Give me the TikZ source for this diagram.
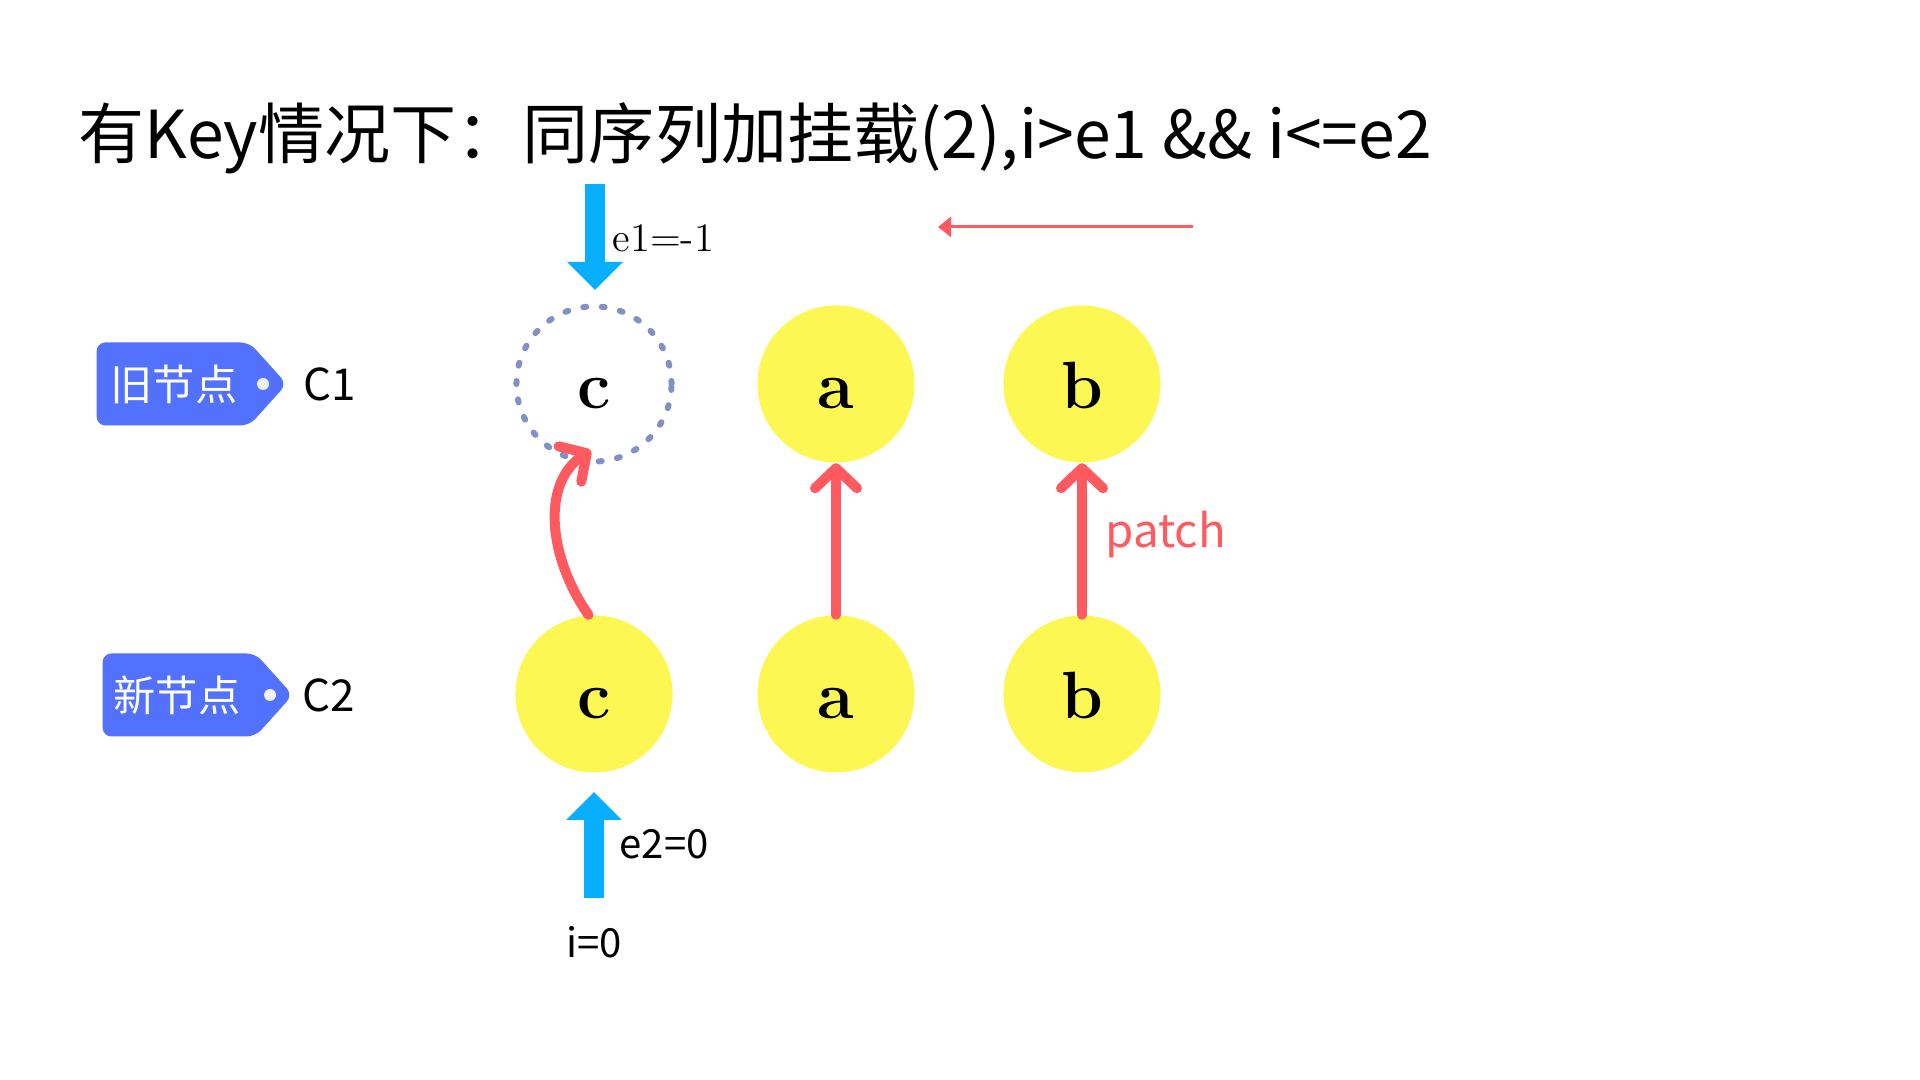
\documentclass[tikz,border=0pt]{standalone}
\usepackage{fontspec}
\newfontfamily\cjk{Noto Sans CJK SC}
\usepackage{tikz}
\usetikzlibrary{arrows.meta,shapes.symbols,positioning}
\definecolor{kyellow}{RGB}{252,247,82}
\definecolor{ktagblue}{RGB}{82,113,255}
\definecolor{kcyan}{RGB}{8,174,255}
\definecolor{kred}{RGB}{255,90,95}
\definecolor{kghost}{RGB}{130,145,196}
\definecolor{kdot}{RGB}{240,240,245}
\tikzstyle{keynode} = [circle, minimum size=1.57cm, inner sep=0pt, fill=kyellow, text height=0.5cm, text depth=0pt, font=\fontsize{19}{22}\selectfont\bfseries]
\tikzstyle{ghostnode} = [circle, minimum size=1.55cm, inner sep=0pt, draw=kghost, line width=0.06cm, line cap=round, dash pattern=on 0.03cm off 0.155cm, text height=0.5cm, text depth=0pt, font=\fontsize{19}{22}\selectfont\bfseries]
\tikzstyle{tag} = [signal, signal to=east, signal pointer angle=96, fill=ktagblue, rounded corners=2.5pt, minimum width=1.9cm, minimum height=0.83cm, inner sep=0pt]
\tikzstyle{tagtext} = [inner sep=0pt, text=white, font=\cjk\fontsize{12}{14}\selectfont]
\tikzstyle{tagdot} = [circle, fill=kdot, minimum size=0.12cm, inner sep=0pt]
\tikzstyle{plainlabel} = [inner sep=0pt, font=\cjk\fontsize{12.5}{15}\selectfont]
\tikzstyle{patcharrow} = [kred, line width=0.1cm, line cap=round, -{Straight Barb[round,length=0.2cm,width=0.42cm]}]
\tikzstyle{scanarrow} = [kcyan, line width=0.2cm, -{Triangle[length=0.28cm,width=0.54cm]}]
\tikzstyle{sweeparrow} = [kred, line width=0.03cm, -{Triangle[length=0.13cm,width=0.2cm]}]

\begin{document}
\begin{tikzpicture}[x=0.01cm, y=0.01cm]
\useasboundingbox (0,0) rectangle (1920,1080);

% Title
\node (title) [anchor=base west, inner sep=0pt, font=\cjk\fontsize{18.8}{22}\selectfont] at (78,921) {有Key情况下：同序列加挂载(2),i>e1 \&\& i<=e2};

% Old children
\node (cold) [ghostnode] at (594,696) {c};
\node (aold) [keynode] at (836,696) {a};
\node (bold) [keynode] at (1082,696) {b};

% New children
\node (cnew) [keynode] at (594,386) {c};
\node (anew) [keynode] at (836,386) {a};
\node (bnew) [keynode] at (1082,386) {b};

% Tags
\node (oldtag) [tag] at (173,696) {};
\node (oldtagtext) [tagtext] at ([xshift=0.01cm]oldtag.center) {旧节点};
\node (olddot) [tagdot] at ([xshift=0.90cm]oldtag.center) {};
\node (oldname) [plainlabel, right=0.15cm of oldtag] {C1};
\node (newtag) [tag] at (179,385) {};
\node (newtagtext) [tagtext] at ([xshift=-0.02cm]newtag.center) {新节点};
\node (newdot) [tagdot] at ([xshift=0.91cm]newtag.center) {};
\node (newname) [plainlabel, right=0.08cm of newtag] {C2};

% Pointers e1, e2
\coordinate (e1top) at (595,896);
\coordinate (e1tip) at (595,790);
\draw[scanarrow] (e1top) -- (e1tip);
\node (e1label) [anchor=base west, inner sep=0pt, font=\fontsize{11.5}{13}\selectfont] at (612,828) {e1=-1};
\coordinate (e2bottom) at (594,182);
\coordinate (e2tip) at (594,288);
\draw[scanarrow] (e2bottom) -- (e2tip);
\node (e2label) [plainlabel, anchor=base west, font=\cjk\fontsize{11.4}{13}\selectfont] at (619,221) {e2=0};
\node (ilabel) [plainlabel, anchor=base, font=\cjk\fontsize{11.4}{13}\selectfont] at (594,122) {i=0};

% Direction
\coordinate (sweepstart) at (1193,853);
\coordinate (sweepend) at (938,853);
\draw[sweeparrow] (sweepstart) -- (sweepend);

% Patch
\draw[patcharrow] (cnew.94) .. controls (547,525) and (542,598) .. ([shift={(-0.03cm,0.14cm)}]cold.south);
\draw[patcharrow] (anew.north) -- (aold.south);
\draw[patcharrow] (bnew.north) -- (bold.south);
\node (patchlabel) [plainlabel, anchor=base west, text=kred, font=\cjk\fontsize{13}{15}\selectfont] at (1105,532) {patch};
\end{tikzpicture}
\end{document}
